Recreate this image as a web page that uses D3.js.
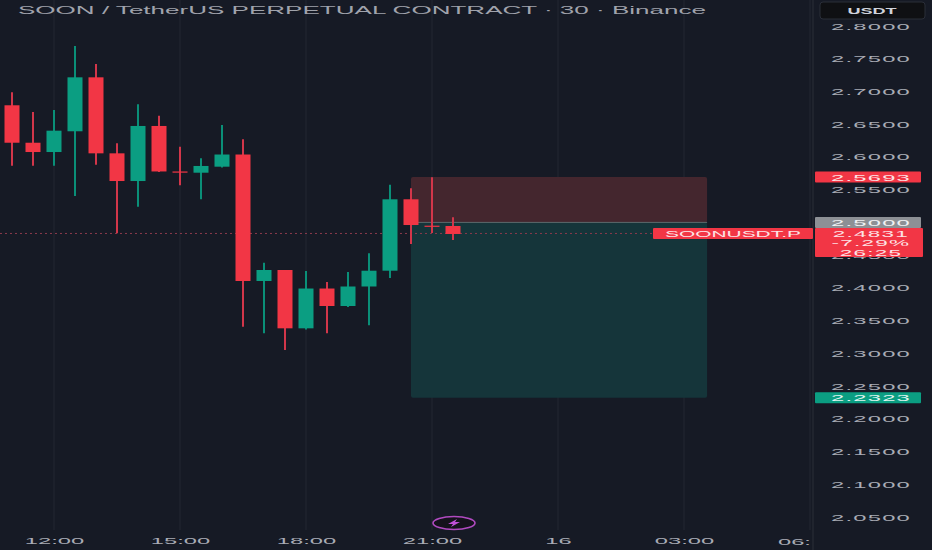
<!DOCTYPE html>
<html lang="en">
<head>
<meta charset="UTF-8">
<title>SOON / TetherUS</title>
<style>
    html, body { margin: 0; padding: 0; background: #161a25; }
    svg { display: block; }
    text { font-family: "Liberation Sans", sans-serif; }
</style>
</head>
<body>
<div id="chart"></div>
<script src="https://d3js.org/d3.v7.min.js"></script>
<script>
// half-hour bars, hours counted from 00:00 on the 15th
var hours = [11, 11.5, 12, 12.5, 13, 13.5, 14, 14.5, 15, 15.5, 16, 16.5, 17, 17.5, 18, 18.5, 19, 19.5, 20, 20.5, 21, 21.5];
var opens = [2.6789, 2.6217, 2.6075, 2.6392, 2.7216, 2.6055, 2.5632, 2.6473, 2.5778, 2.5759, 2.5851, 2.6037, 2.4105, 2.4273, 2.3382, 2.3990, 2.3723, 2.4021, 2.4262, 2.5353, 2.4950, 2.4945];
var highs = [2.6987, 2.6686, 2.6717, 2.7695, 2.7420, 2.6208, 2.6804, 2.6630, 2.6156, 2.5979, 2.6488, 2.6269, 2.4384, 2.4273, 2.4258, 2.4090, 2.4242, 2.4528, 2.5576, 2.5521, 2.5689, 2.5078];
var lows = [2.5866, 2.5866, 2.5866, 2.5403, 2.5881, 2.4834, 2.5240, 2.5770, 2.5567, 2.5353, 2.5840, 2.3407, 2.3306, 2.3051, 2.3364, 2.3306, 2.3708, 2.3428, 2.4151, 2.4670, 2.4838, 2.4731];
var closes = [2.6217, 2.6075, 2.6401, 2.7216, 2.6055, 2.5632, 2.6473, 2.5778, 2.5762, 2.5862, 2.6037, 2.4105, 2.4273, 2.3382, 2.3990, 2.3723, 2.4021, 2.4262, 2.5353, 2.4960, 2.4935, 2.4823];

var priceTicks = [2.8, 2.75, 2.7, 2.65, 2.6, 2.55, 2.45, 2.4, 2.35, 2.3, 2.25, 2.2, 2.15, 2.1, 2.05];
var timeTicks = [12, 15, 18, 21, 24, 27];
var timeLabels = ["12:00", "15:00", "18:00", "21:00", "16", "03:00"];
var clippedTick = [30, "06:"];

var lastPrice = 2.4831;
var stopPrice = 2.5693;
var entryPrice = 2.5;
var targetPrice = 2.2323;
var boxHours = [20.5, 27.55];

var up = "#0b9e82", down = "#f23645", textCol = "#a9acb5";
var width = 932, height = 550, axisX = 813;

var x = d3.scaleLinear().domain([12, 21]).range([54, 432]);
var y = d3.scaleLinear().domain([2.8, 2.05]).range([26, 517]);

var svg = d3.select("#chart").append("svg")
    .attr("width", width)
    .attr("height", height);

svg.append("rect").attr("width", width).attr("height", height).attr("fill", "#161a25");

// the screenshot is stretched sideways, so every label gets widened
function stretch(sel, k) {
    sel.each(function() {
        var len = this.getComputedTextLength();
        d3.select(this).attr("textLength", len * k).attr("lengthAdjust", "spacingAndGlyphs");
    });
}

// vertical grid
svg.append("g").selectAll("line")
    .data(timeTicks.concat(clippedTick[0]))
    .enter().append("line")
    .attr("x1", d => x(d)).attr("x2", d => x(d))
    .attr("y1", 0).attr("y2", 530)
    .attr("stroke", "#232732").attr("stroke-width", 1);

// position tool
var box = svg.append("g");
box.append("rect")
    .attr("x", x(boxHours[0])).attr("width", x(boxHours[1]) - x(boxHours[0]))
    .attr("y", y(stopPrice)).attr("height", y(entryPrice) - y(stopPrice))
    .attr("rx", 2).attr("fill", "#44262e");
box.append("rect")
    .attr("x", x(boxHours[0])).attr("width", x(boxHours[1]) - x(boxHours[0]))
    .attr("y", y(entryPrice)).attr("height", y(targetPrice) - y(entryPrice))
    .attr("rx", 2).attr("fill", "#15353a");
box.append("line")
    .attr("x1", x(boxHours[0])).attr("x2", x(boxHours[1]))
    .attr("y1", y(entryPrice)).attr("y2", y(entryPrice))
    .attr("stroke", "#5d6b6d").attr("stroke-width", 1);

// last price line
svg.append("line")
    .attr("x1", 0).attr("x2", axisX)
    .attr("y1", y(lastPrice)).attr("y2", y(lastPrice))
    .attr("stroke", "#8a3a4c").attr("stroke-width", 1).attr("stroke-dasharray", "2 3");

// candles
var candles = svg.append("g").selectAll("g")
    .data(hours)
    .enter().append("g");

candles.append("line")
    .attr("x1", d => x(d)).attr("x2", d => x(d))
    .attr("y1", (d, i) => y(highs[i])).attr("y2", (d, i) => y(lows[i]))
    .attr("stroke", (d, i) => closes[i] >= opens[i] ? "#0a8f78" : "#d2364a")
    .attr("stroke-width", 2);

candles.append("rect")
    .attr("x", d => x(d) - 7.5).attr("width", 15)
    .attr("y", (d, i) => y(Math.max(opens[i], closes[i])))
    .attr("height", (d, i) => Math.max(1.2, Math.abs(y(opens[i]) - y(closes[i]))))
    .attr("fill", (d, i) => closes[i] >= opens[i] ? up : down);

// price scale
svg.append("line")
    .attr("x1", axisX).attr("x2", axisX).attr("y1", 0).attr("y2", height)
    .attr("stroke", "#2a2e39");

var yAxis = svg.append("g")
    .attr("transform", "translate(" + (axisX + 58) + ",0)")
    .call(d3.axisRight(y).tickValues(priceTicks).tickFormat(d3.format(".4f")).tickSize(0).tickPadding(0));
yAxis.select(".domain").remove();
yAxis.selectAll("text")
    .attr("fill", textCol).attr("font-size", 9.5).attr("text-anchor", "middle")
    .style("letter-spacing", "0.5px");
stretch(yAxis.selectAll("text"), 2.5);

// time scale
var xAxis = svg.append("g")
    .attr("transform", "translate(0,530)")
    .call(d3.axisBottom(x).tickValues(timeTicks).tickFormat((d, i) => timeLabels[i]).tickSize(0).tickPadding(7));
xAxis.select(".domain").remove();
xAxis.selectAll("text").attr("fill", textCol).attr("font-size", 9.5);
stretch(xAxis.selectAll("text"), 2.5);

var lastTick = svg.append("text")
    .attr("x", x(clippedTick[0]) + 1).attr("y", 545)
    .attr("text-anchor", "end").attr("fill", textCol).attr("font-size", 9.5)
    .text(clippedTick[1]);
stretch(lastTick, 2.5);

// price labels on the scale
function priceLabel(price, fill, col) {
    svg.append("rect")
        .attr("x", axisX + 2).attr("width", 106)
        .attr("y", y(price) - 5.5).attr("height", 11)
        .attr("rx", 1).attr("fill", fill);
    var t = svg.append("text")
        .attr("x", axisX + 58).attr("y", y(price) + 3.5)
        .attr("text-anchor", "middle").attr("fill", col).attr("font-size", 9.5)
        .style("letter-spacing", "0.5px")
        .text(d3.format(".4f")(price));
    stretch(t, 2.5);
}
priceLabel(stopPrice, down, "#fde3e5");
priceLabel(entryPrice, "#8d9095", "#f0f1f3");
priceLabel(targetPrice, up, "#e2f5f1");

// symbol tag and countdown block
svg.append("rect").attr("x", 653).attr("y", y(lastPrice) - 5.5).attr("width", 160).attr("height", 11).attr("rx", 1).attr("fill", down);
var sym = svg.append("text")
    .attr("x", 733).attr("y", y(lastPrice) + 3.5)
    .attr("text-anchor", "middle").attr("fill", "#fde3e5").attr("font-size", 9.5)
    .text("SOONUSDT.P");
stretch(sym, 2.2);

svg.append("rect").attr("x", axisX + 2).attr("y", y(lastPrice) - 5.5).attr("width", 108).attr("height", 29).attr("rx", 1).attr("fill", down);
var block = svg.append("g").selectAll("text")
    .data([d3.format(".4f")(lastPrice), "-7.29%", "26:25"])
    .enter().append("text")
    .attr("x", axisX + 58).attr("y", (d, i) => y(lastPrice) + 3.5 + i * 9.5)
    .attr("text-anchor", "middle").attr("fill", "#fde3e5").attr("font-size", 9)
    .style("letter-spacing", "0.5px")
    .text(d => d);
stretch(block, 2.5);

// currency button
svg.append("rect").attr("x", 820).attr("y", 2).attr("width", 105).attr("height", 17).attr("rx", 3)
    .attr("fill", "#0f1013").attr("stroke", "#2a2e39");
var cur = svg.append("text").attr("x", 872).attr("y", 14)
    .attr("text-anchor", "middle").attr("fill", "#d1d4dc").attr("font-size", 9.5).attr("font-weight", "bold")
    .text("USDT");
stretch(cur, 1.9);

// title
var title = svg.append("text").attr("x", 18).attr("y", 14)
    .attr("fill", "#a0a3ac").attr("font-size", 10)
    .text("SOON / TetherUS PERPETUAL CONTRACT · 30 · Binance");
title.attr("textLength", 688).attr("lengthAdjust", "spacingAndGlyphs");

// lightning badge on the time scale
var badge = svg.append("g").attr("transform", "translate(454,523)");
badge.append("ellipse").attr("rx", 21).attr("ry", 6.5)
    .attr("fill", "#14121c").attr("stroke", "#b04ac0").attr("stroke-width", 1.6);
badge.append("path")
    .attr("d", "M3 -4 L-6 1 L-1 1 L-3 4 L6 -1 L1 -1 Z")
    .attr("fill", "#c050d8");
</script>
</body>
</html>
